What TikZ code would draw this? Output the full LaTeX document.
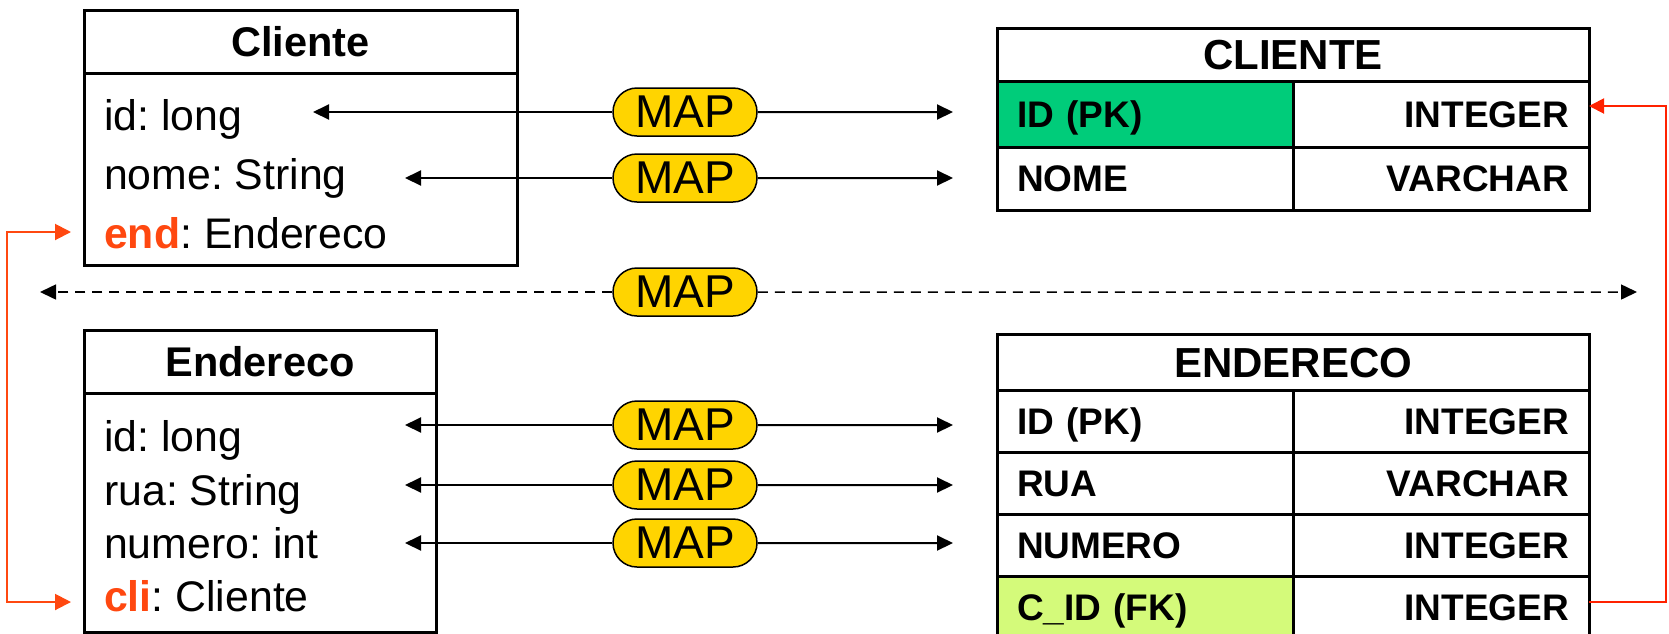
\documentclass[tikz,border=0pt]{standalone}
\usepackage{fontspec}
\setmainfont{Liberation Sans}
\usetikzlibrary{positioning,arrows.meta,shapes.misc}
\frenchspacing

\definecolor{mapyellow}{RGB}{255,212,0}
\definecolor{pkgreen}{RGB}{0,204,122}
\definecolor{fkgreen}{RGB}{212,250,122}
\definecolor{linkorange}{RGB}{255,72,16}
\definecolor{linkred}{RGB}{255,34,0}

\begin{document}
\begin{tikzpicture}[
    x=1pt, y=-1pt,
    classhead/.style={draw, line width=3pt, anchor=north west, outer sep=0pt, inner sep=0pt, font=\bfseries\fontsize{41.5}{50}\selectfont},
    classbody/.style={draw, line width=3pt, anchor=north west, outer sep=0pt, inner sep=0pt},
    attr/.style={anchor=base west, inner sep=0pt, font=\fontsize{42.8}{50}\selectfont},
    thead/.style={draw, line width=3pt, anchor=north west, outer sep=0pt, minimum width=592pt, inner sep=0pt, text height=30pt, text depth=0pt, font=\bfseries\fontsize{42}{50}\selectfont},
    tcell/.style={draw, line width=3pt, anchor=north west, outer sep=0pt, minimum width=296pt, minimum height=62pt, text width=256pt, text height=26.5pt, text depth=0pt, inner xsep=20pt, inner ysep=0pt, font=\bfseries\fontsize{37}{44}\selectfont},
    colname/.style={tcell, align=left},
    coltype/.style={tcell, align=right},
    map/.style={rounded rectangle, draw, line width=1.5pt, fill=mapyellow, minimum width=144pt, minimum height=48pt, inner sep=0pt, font=\fontsize{46}{55}\selectfont},
    maplink/.style={line width=2pt, -{Triangle[length=16pt, width=15pt]}},
    dashlink/.style={maplink, line width=1.5pt, dash pattern=on 10pt off 7pt},
    orangelink/.style={draw=linkorange, line width=2pt, {Triangle[length=16pt, width=16pt]}-{Triangle[length=16pt, width=16pt]}},
    redlink/.style={draw=linkred, line width=2pt, -{Triangle[length=15pt, width=15pt]}}
]
\clip (0,0) rectangle (1669,633);

% Java classes
\node[classhead, minimum width=433pt, minimum height=63pt] (clienteHead) at (84,10) {Cliente};
\node[classbody, minimum width=433pt, minimum height=192pt] (clienteBody) at (clienteHead.south west) {};
\node[attr] (cId) at (104,130) {id: long};
\node[attr] (cNome) at (104,189) {nome: String};
\node[attr] (cEnd) at (104,248) {\textcolor{linkorange}{\bfseries end}: Endereco};

\node[classhead, minimum width=352pt, minimum height=63pt] (enderecoHead) at (84,330) {Endereco};
\node[classbody, minimum width=352pt, minimum height=239pt] (enderecoBody) at (enderecoHead.south west) {};
\node[attr] (eId) at (104,451) {id: long};
\node[attr] (eRua) at (104,505) {rua: String};
\node[attr] (eNumero) at (104,558) {numero: int};
\node[attr] (eCli) at (104,611) {\textcolor{linkorange}{\bfseries cli}: Cliente};

% Tables
\node[thead, minimum height=53pt] (tCliente) at (997,28) {CLIENTE};
\node[colname, minimum height=66pt, fill=pkgreen] (tcIdCol) at (997,81) {ID (PK)};
\node[coltype, minimum height=66pt] (tcIdType) at (1293,81) {INTEGER};
\node[colname, minimum height=63pt] (tcNomeCol) at (997,147) {NOME};
\node[coltype, minimum height=63pt] (tcNomeType) at (1293,147) {VARCHAR};

\node[thead, minimum height=56pt] (tEndereco) at (997,334) {ENDERECO};
\node[colname] (teIdCol) at (997,390) {ID (PK)};
\node[coltype] (teIdType) at (1293,390) {INTEGER};
\node[colname] (teRuaCol) at (997,452) {RUA};
\node[coltype] (teRuaType) at (1293,452) {VARCHAR};
\node[colname] (teNumCol) at (997,514) {NUMERO};
\node[coltype] (teNumType) at (1293,514) {INTEGER};
\node[colname, fill=fkgreen] (teFkCol) at (997,576) {C\_ID (FK)};
\node[coltype] (teFkType) at (1293,576) {INTEGER};

% MAP labels
\node[map] (m1) at (685,112) {MAP};
\node[map] (m2) at (685,178) {MAP};
\node[map] (m3) at (685,292) {MAP};
\node[map] (m4) at (685,425) {MAP};
\node[map] (m5) at (685,485) {MAP};
\node[map] (m6) at (685,543) {MAP};

% Arrow ends
\coordinate (idInC) at (313,112);   \coordinate (idOutC) at (953,112);
\coordinate (nomeIn) at (405,178);  \coordinate (nomeOut) at (953,178);
\coordinate (classIn) at (40,292);  \coordinate (tableOut) at (1637,292);
\coordinate (idInE) at (405,425);   \coordinate (idOutE) at (953,425);
\coordinate (ruaIn) at (405,485);   \coordinate (ruaOut) at (953,485);
\coordinate (numIn) at (405,543);   \coordinate (numOut) at (953,543);
\coordinate (endIn) at (71,232);    \coordinate (cliIn) at (71,602);

% Mappings
\draw[maplink] (m1) -- (idInC);  \draw[maplink] (m1) -- (idOutC);
\draw[maplink] (m2) -- (nomeIn); \draw[maplink] (m2) -- (nomeOut);
\draw[dashlink] (m3) -- (classIn); \draw[dashlink] (m3) -- (tableOut);
\draw[maplink] (m4) -- (idInE);  \draw[maplink] (m4) -- (idOutE);
\draw[maplink] (m5) -- (ruaIn);  \draw[maplink] (m5) -- (ruaOut);
\draw[maplink] (m6) -- (numIn);  \draw[maplink] (m6) -- (numOut);

% Associations
\draw[orangelink] (endIn) -- ++(-64,0) |- (cliIn);
\draw[redlink] ([yshift=5pt]teFkType.east) -- ++(77,0) |- ([yshift=8pt]tcIdType.east);

\end{tikzpicture}
\end{document}
